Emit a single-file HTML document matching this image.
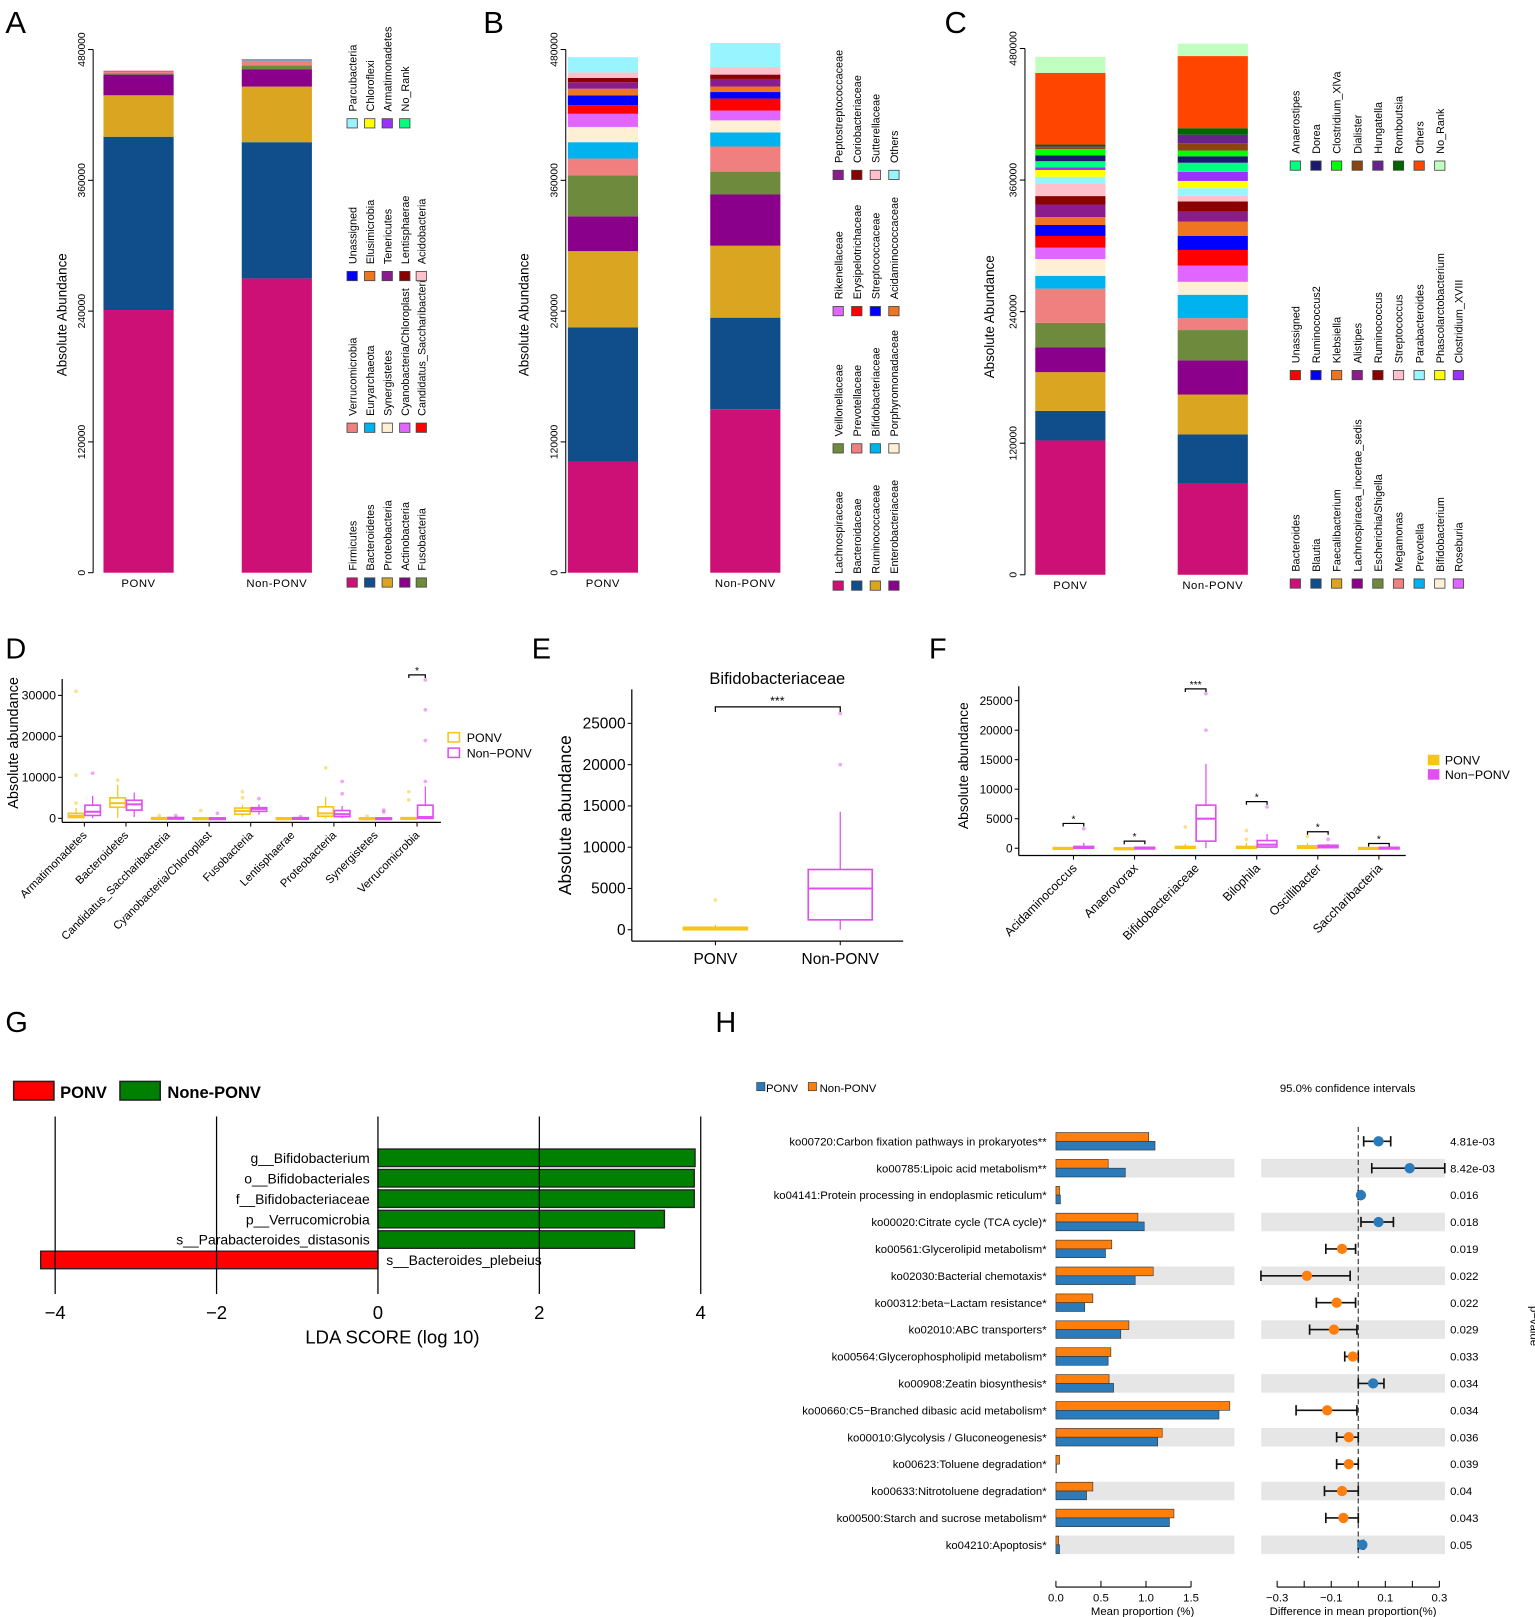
<!DOCTYPE html>
<html><head><meta charset="utf-8"><style>
html,body{margin:0;padding:0;background:#fff;}
svg{display:block;font-family:"Liberation Sans",Arial,sans-serif;}
</style></head><body>
<svg id="fig" xmlns="http://www.w3.org/2000/svg" width="1535" height="1617" viewBox="0 0 1487 1567"></svg>
<script>
// ===== Data: Panel A (cumulative tops, phylum) =====
const aGroups = ["PONV","Non-PONV"];
const aTaxa = ["Firmicutes","Bacteroidetes","Proteobacteria","Actinobacteria","Fusobacteria","Verrucomicrobia","Euryarchaeota","Synergistetes","Cyanobacteria/Chloroplast","Candidatus_Saccharibacteria","Unassigned","Elusimicrobia","Tenericutes","Lentisphaerae","Acidobacteria","Parcubacteria","Chloroflexi","Armatimonadetes","No_Rank"];
const aTopsPONV = [241000,400000,438000,457000,458000,459500,460000,460000,460000,460500,460500,460500,460500,460500,461000,461000,461000,461000,461000];
const aTopsNon = [270000,395000,446000,462000,465500,470000,470500,470500,470500,471000,471000,471000,471000,471000,471000,471000,471000,471000,471000];
const aTicks = [0,120000,240000,360000,480000];
// ===== Data: Panel B (family) =====
const bTaxa = ["Lachnospiraceae","Bacteroidaceae","Ruminococcaceae","Enterobacteriaceae","Veillonellaceae","Prevotellaceae","Bifidobacteriaceae","Porphyromonadaceae","Rikenellaceae","Erysipelotrichaceae","Streptococcaceae","Acidaminococcaceae","Peptostreptococcaceae","Coriobacteriaceae","Sutterellaceae","Others"];
const bTopsPONV = [102000,225000,295000,327000,364500,380000,395000,409000,421000,429000,438000,444000,450000,454000,459000,473000];
const bTopsNon = [150000,234000,300000,347000,368000,391000,404000,415000,424000,435000,441000,446000,453000,457000,464000,486000];
// ===== Data: Panel C (genus) =====
const cTaxa = ["Bacteroides","Blautia","Faecalibacterium","Lachnospiracea_incertae_sedis","Escherichia/Shigella","Megamonas","Prevotella","Bifidobacterium","Roseburia","Unassigned","Ruminococcus2","Klebsiella","Alistipes","Ruminococcus","Streptococcus","Parabacteroides","Phascolarctobacterium","Clostridium_XVIII","Anaerostipes","Dorea","Clostridium_XlVa","Dialister","Hungatella","Romboutsia","Others","No_Rank"];
const cTopsPONV = [122500,149500,184800,207300,229800,261000,272700,288000,298300,309000,319000,326300,337700,345400,356400,363000,369200,371700,377200,382400,388300,390000,390700,392400,457800,472400];
const cTopsNon = [83700,128000,164400,195500,223200,234000,255400,267200,282000,296200,309000,322200,331200,340500,345700,352600,359200,367500,375800,381700,386900,393500,401400,407300,473100,484500];
// ===== Data: Panel D =====
const dCats = ["Armatimonadetes","Bacteroidetes","Candidatus_Saccharibacteria","Cyanobacteria/Chloroplast","Fusobacteria","Lentisphaerae","Proteobacteria","Synergistetes","Verrucomicrobia"];
const dPq1 = [200,2700,0,0,1000,0,500,0,0];
const dPmed = [600,3700,50,0,1800,0,1200,0,0];
const dPq3 = [1200,5000,150,100,2500,100,2800,100,150];
const dPlo = [0,100,0,0,400,0,0,0,0];
const dPhi = [2500,8200,400,200,3200,200,5200,300,300];
const dPout = [[31000,10500,3700],[9300],[700],[1900],[5000,6500],[],[12300],[500],[4500,6500]];
const dNq1 = [700,2000,0,0,1700,0,400,0,0];
const dNmed = [1600,3400,50,0,2300,0,1000,0,300];
const dNq3 = [3200,4400,200,100,2600,150,1900,100,3200];
const dNlo = [0,300,0,0,900,0,0,0,0];
const dNhi = [5500,6300,500,300,3400,300,3000,300,7800];
const dNout = [[11000],[],[700],[1200],[4800],[400],[6000,9000],[1500,2000],[9000,19000,26500,33800]];
const dTicks = [0,10000,20000,30000];
// ===== Data: Panel E =====
const eCats = ["PONV","Non-PONV"];
const eQ1 = [0,1200], eMed = [150,5000], eQ3 = [300,7300], eLo = [0,0], eHi = [600,14300];
const eOut = [[3600],[20000,26200]];
const eTicks = [0,5000,10000,15000,20000,25000];
// ===== Data: Panel F =====
const fCats = ["Acidaminococcus","Anaerovorax","Bifidobacteriaceae","Bilophila","Oscillibacter","Saccharibacteria"];
const fPq1 = [0,0,0,0,0,0], fPmed = [0,0,100,50,100,0], fPq3 = [100,50,300,300,400,100], fPlo=[0,0,0,0,0,0], fPhi=[200,100,700,900,900,200];
const fPout = [[],[],[3600],[1500,3000],[2000],[]];
const fNq1 = [0,0,1200,200,100,0], fNmed = [100,50,5000,600,300,0], fNq3 = [300,150,7300,1300,500,150], fNlo=[0,0,0,0,0,0], fNhi=[900,300,14300,2400,700,300];
const fNout = [[3300],[],[20000,26200],[7000],[1500],[]];
const fSig = [4200,1200,27000,7900,2800,800];
const fStars = ["*","*","***","*","*","*"];
const fTicks = [0,5000,10000,15000,20000,25000];
// ===== Data: Panel G (LDA) =====
const gTaxa = ["g__Bifidobacterium","o__Bifidobacteriales","f__Bifidobacteriaceae","p__Verrucomicrobia","s__Parabacteroides_distasonis","s__Bacteroides_plebeius"];
const gScores = [3.93,3.92,3.92,3.55,3.18,-4.18];
const gTicks = [-4,-2,0,2,4];
// ===== Data: Panel H =====
const hPaths = ["ko00720:Carbon fixation pathways in prokaryotes**","ko00785:Lipoic acid metabolism**","ko04141:Protein processing in endoplasmic reticulum*","ko00020:Citrate cycle (TCA cycle)*","ko00561:Glycerolipid metabolism*","ko02030:Bacterial chemotaxis*","ko00312:beta\u2212Lactam resistance*","ko02010:ABC transporters*","ko00564:Glycerophospholipid metabolism*","ko00908:Zeatin biosynthesis*","ko00660:C5\u2212Branched dibasic acid metabolism*","ko00010:Glycolysis / Gluconeogenesis*","ko00623:Toluene degradation*","ko00633:Nitrotoluene degradation*","ko00500:Starch and sucrose metabolism*","ko04210:Apoptosis*"];
const hNon = [1.03,0.58,0.04,0.91,0.62,1.08,0.41,0.81,0.61,0.59,1.93,1.18,0.04,0.41,1.31,0.03];
const hPonv = [1.10,0.77,0.05,0.98,0.55,0.88,0.32,0.72,0.58,0.64,1.81,1.13,0.005,0.34,1.26,0.04];
const hDiff = [0.075,0.19,0.01,0.075,-0.06,-0.19,-0.08,-0.09,-0.02,0.055,-0.115,-0.035,-0.035,-0.06,-0.055,0.015];
const hLo = [0.02,0.05,0,0.01,-0.12,-0.36,-0.155,-0.18,-0.05,0,-0.23,-0.08,-0.08,-0.125,-0.12,0];
const hHi = [0.12,0.32,0.01,0.13,-0.01,-0.03,-0.01,-0.005,0,0.095,-0.005,0,0,0,0,0.02];
const hP = ["4.81e-03","8.42e-03","0.016","0.018","0.019","0.022","0.022","0.029","0.033","0.034","0.034","0.036","0.039","0.04","0.043","0.05"];
const hTicksL = [0,0.5,1.0,1.5];
const hTicksR = [-0.3,-0.2,-0.1,0,0.1,0.2,0.3];

const pal = ["#CD1076","#104E8B","#DAA520","#8B008B","#6E8B3D","#F08080","#00B2EE","#FFEFD5","#E066FF","#FF0000","#0000FF","#EE7621","#8B1C8B","#8B0000","#FFC0CB","#98F5FF","#FFFF00","#9B30FF","#00FF7F","#191970","#00FF00","#8B4513","#68228B","#006400","#FF4500","#C1FFC1"];
const aPal = pal.slice(0,18).concat(["#00FF7F"]);
const bPal = pal.slice(0,16);
const cPal = pal.slice(0,18).concat(["#00FF7F","#191970","#00FF00","#8B4513","#68228B","#006400","#FF4500","#C1FFC1"]);

const svg = document.getElementById('fig');
const NS = "http://www.w3.org/2000/svg";
function mk(tag, at, parent){const e=document.createElementNS(NS,tag);for(const k in at)e.setAttribute(k,at[k]);(parent||svg).appendChild(e);return e;}
function tx(str, at, parent){const e=mk('text',at,parent);e.textContent=str;return e;}

[["A",5],["B",468],["C",915]].forEach(p=>{const t=tx(p[0],{x:p[1],y:32,'font-size':30});

});
[["D",5,638],["E",515,638],["F",900,638],["G",5,1000],["H",693,1000]].forEach(p=>{const t=tx(p[0],{x:p[1],y:p[2],'font-size':28});

});

function stackPanel(key, axisX, y0, pxFull, bars, taxa, tops, colors, legCols, legGroups, titleX){
  const g=mk('g',{});
  
  
  const y=v=>y0 - v*pxFull/480000;
  const ax=mk('line',{x1:axisX,y1:y(0),x2:axisX,y2:y(480000),stroke:'#000','stroke-width':1},g);
  
  
  aTicks.forEach(v=>{
    const tk=mk('line',{x1:axisX-5,y1:y(v),x2:axisX,y2:y(v),stroke:'#000'},g);
    
    
    const tl=tx(String(v),{x:axisX-8,y:y(v),'font-size':10,'text-anchor':'middle',transform:`rotate(-90 ${axisX-8} ${y(v)})`},g);
    
    
  });
  const yt=tx('Absolute Abundance',{x:titleX,y:y0-250,'font-size':13,'text-anchor':'middle',transform:`rotate(-90 ${titleX} ${y0-250})`},g);
  
  
  bars.forEach((b,bi)=>{
    let prev=0;
    b.tops.forEach((t,i)=>{
      if(t>prev){
        const r=mk('rect',{x:b.x,y:y(t),width:68,height:y(prev)-y(t),fill:colors[i]},g);
        
        
      }
      prev=Math.max(prev,t);
    });
    const lb=tx(aGroups[bi],{x:b.x+34,y:y0+14,'font-size':11,'text-anchor':'middle','letter-spacing':'0.5'},g);
    
    
  });
  let idx=0;
  legGroups.forEach(gr=>{
    for(let c=0;c<gr.n;c++){
      const i=idx++;
      const x=legCols[c];
      const sq=mk('rect',{x:x-5,y:gr.y-5,width:10,height:9,fill:colors[i],stroke:'#444','stroke-width':0.8},g);
      
      
      const lt=tx(taxa[i],{x:x+4,y:gr.y-12,'font-size':10.5,transform:`rotate(-90 ${x+4} ${gr.y-12})`},g);
      
      
    }
  });
}
stackPanel('a',90,555,507,[{x:100,tops:aTopsPONV},{x:234,tops:aTopsNon}],aTaxa,aTopsPONV,aPal,[341,358,375,392,408],[{y:565,n:5},{y:415,n:5},{y:268,n:5},{y:120,n:4}],64);
stackPanel('b',548,555,507,[{x:550,tops:bTopsPONV},{x:688,tops:bTopsNon}],bTaxa,bTopsPONV,bPal,[812,830,848,866],[{y:568,n:4},{y:435,n:4},{y:302,n:4},{y:170,n:4}],512);
stackPanel('c',993,557,510,[{x:1003,tops:cTopsPONV},{x:1141,tops:cTopsNon}],cTaxa,cTopsPONV,cPal,[1255,1275,1295,1315,1335,1355,1375,1395,1413],[{y:566,n:9},{y:364,n:9},{y:161,n:8}],963);

function boxDraw(g,cx,w,q1,med,q3,lo,hi,outs,col,y){
  const wl=mk('line',{x1:cx,y1:y(lo),x2:cx,y2:y(hi),stroke:col,'stroke-width':1.2},g);
  
  
  const bx=mk('rect',{x:cx-w/2,y:y(q3),width:w,height:Math.max(1.5,y(q1)-y(q3)),fill:'#fff',stroke:col,'stroke-width':1.6},g);
  
  
  const md=mk('line',{x1:cx-w/2,y1:y(med),x2:cx+w/2,y2:y(med),stroke:col,'stroke-width':2},g);
  
  
  outs.forEach(o=>{const c=mk('circle',{cx:cx,cy:y(o),r:1.8,fill:col,opacity:0.5},g);
  
  });
}
const YEL='#F5C518', PINK='#E050F0';

(function(){
  const g=mk('g',{});
  
  
  const y=v=>793 - v*39.7/10000;
  const x=i=>81.5+i*40.3;
  const a1=mk('line',{x1:60,y1:658,x2:60,y2:797,stroke:'#000','stroke-width':1.2},g);
  
  
  const a2=mk('line',{x1:60,y1:797,x2:427,y2:797,stroke:'#000','stroke-width':1.2},g);
  
  
  dTicks.forEach(v=>{
    const t=mk('line',{x1:56,y1:y(v),x2:60,y2:y(v),stroke:'#000'},g);
    
    
    const l=tx(String(v),{x:54,y:y(v)+4,'font-size':12,'text-anchor':'end'},g);
    
    
  });
  const yt=tx('Absolute abundance',{x:17,y:720,'font-size':14,'text-anchor':'middle',transform:'rotate(-90 17 720)'},g);
  
  
  dCats.forEach((c,i)=>{
    boxDraw(g,x(i)-8,15,dPq1[i],dPmed[i],dPq3[i],dPlo[i],dPhi[i],dPout[i],YEL,y);
    boxDraw(g,x(i)+8,15,dNq1[i],dNmed[i],dNq3[i],dNlo[i],dNhi[i],dNout[i],PINK,y);
    const t=mk('line',{x1:x(i),y1:797,x2:x(i),y2:801,stroke:'#000'},g);
    
    
    const l=tx(c,{x:x(i)+3,y:810,'font-size':11,'text-anchor':'end',transform:`rotate(-45 ${x(i)+3} 810)`},g);
    
    
  });
  const i=8, yb=y(35000);
  const br=mk('path',{d:`M${x(i)-8} ${yb+3}V${yb}H${x(i)+8}V${yb+3}`,fill:'none',stroke:'#000','stroke-width':1.2},g);
  
  
  const st=tx('*',{x:x(i),y:yb-1,'font-size':10,'text-anchor':'middle'},g);
  
  
  [['PONV',YEL,716],['Non\u2212PONV',PINK,731]].forEach(L=>{
    const s=mk('rect',{x:434,y:L[2]-6,width:11,height:9,fill:'#fff',stroke:L[1],'stroke-width':1.5},g);
    
    
    const lt=tx(L[0],{x:452,y:L[2]+3,'font-size':12},g);
    
    
  });
})();

(function(){
  const g=mk('g',{});
  
  
  const y=v=>901 - v*0.008;
  const xs=[693,814];
  const a1=mk('line',{x1:612,y1:668,x2:612,y2:912,stroke:'#000','stroke-width':1.2},g);
  
  
  const a2=mk('line',{x1:612,y1:912,x2:875,y2:912,stroke:'#000','stroke-width':1.2},g);
  
  
  eTicks.forEach(v=>{
    const t=mk('line',{x1:608,y1:y(v),x2:612,y2:y(v),stroke:'#000'},g);
    
    
    const l=tx(String(v),{x:606,y:y(v)+5,'font-size':15,'text-anchor':'end'},g);
    
    
  });
  const yt=tx('Absolute abundance',{x:553,y:790,'font-size':17,'text-anchor':'middle',transform:'rotate(-90 553 790)'},g);
  
  
  const ti=tx('Bifidobacteriaceae',{x:753,y:663,'font-size':16,'text-anchor':'middle'},g);
  
  
  eCats.forEach((c,i)=>{
    boxDraw(g,xs[i],62,eQ1[i],eMed[i],eQ3[i],eLo[i],eHi[i],eOut[i],i?PINK:YEL,y);
    const t=mk('line',{x1:xs[i],y1:912,x2:xs[i],y2:916,stroke:'#000'},g);
    
    
    const l=tx(c,{x:xs[i],y:934,'font-size':15,'text-anchor':'middle'},g);
    
    
  });
  const yb=y(27000);
  const br=mk('path',{d:`M${xs[0]} ${yb+5}V${yb}H${xs[1]}V${yb+5}`,fill:'none',stroke:'#000','stroke-width':1.2},g);
  
  
  const st=tx('***',{x:753,y:yb-2,'font-size':12,'text-anchor':'middle'},g);
  
  
})();

(function(){
  const g=mk('g',{});
  
  
  const y=v=>822 - v*0.00572;
  const x=i=>1040+i*59.2;
  const a1=mk('line',{x1:987,y1:665,x2:987,y2:829,stroke:'#000','stroke-width':1.2},g);
  
  
  const a2=mk('line',{x1:987,y1:829,x2:1362,y2:829,stroke:'#000','stroke-width':1.2},g);
  
  
  fTicks.forEach(v=>{
    const t=mk('line',{x1:983,y1:y(v),x2:987,y2:y(v),stroke:'#000'},g);
    
    
    const l=tx(String(v),{x:981,y:y(v)+4,'font-size':11.5,'text-anchor':'end'},g);
    
    
  });
  const yt=tx('Absolute abundance',{x:938,y:742,'font-size':13.5,'text-anchor':'middle',transform:'rotate(-90 938 742)'},g);
  
  
  fCats.forEach((c,i)=>{
    boxDraw(g,x(i)-10,19,fPq1[i],fPmed[i],fPq3[i],fPlo[i],fPhi[i],fPout[i],YEL,y);
    boxDraw(g,x(i)+10,19,fNq1[i],fNmed[i],fNq3[i],fNlo[i],fNhi[i],fNout[i],PINK,y);
    const t=mk('line',{x1:x(i),y1:829,x2:x(i),y2:833,stroke:'#000'},g);
    
    
    const l=tx(c,{x:x(i)+4,y:842,'font-size':12,'text-anchor':'end',transform:`rotate(-45 ${x(i)+4} 842)`},g);
    
    
    const yb=y(fSig[i]);
    const br=mk('path',{d:`M${x(i)-10} ${yb+3}V${yb}H${x(i)+10}V${yb+3}`,fill:'none',stroke:'#000','stroke-width':1.2},g);
    
    
    const st=tx(fStars[i],{x:x(i),y:yb-1,'font-size':10,'text-anchor':'middle'},g);
    
    
  });
  [['PONV',YEL,738],['Non\u2212PONV',PINK,752]].forEach(L=>{
    const s=mk('rect',{x:1384,y:L[2]-6,width:10,height:9,fill:L[1],stroke:L[1],'stroke-width':1.2},g);
    
    
    const lt=tx(L[0],{x:1400,y:L[2]+3,'font-size':12},g);
    
    
  });
})();

(function(){
  const g=mk('g',{});
  
  
  const x=v=>366 + v*78.2;
  const rowY=i=>1122 + i*19.8;
  [['PONV','#FF0000',13,58],['None-PONV','#008000',116,162]].forEach(L=>{
    const s=mk('rect',{x:L[2],y:1048,width:39,height:18,fill:L[1],stroke:'#222','stroke-width':1.5},g);
    
    
    const lt=tx(L[0],{x:L[3],y:1064,'font-size':16,'font-weight':'bold'},g);
    
    
  });
  gScores.forEach((s,i)=>{
    const x0=Math.min(x(0),x(s)), w=Math.abs(x(s)-x(0));
    const r=mk('rect',{x:x0,y:rowY(i)-8.5,width:w,height:17,fill:s<0?'#FF0000':'#008000',stroke:'#222','stroke-width':1.3},g);
    
    
  });
  gTicks.forEach(v=>{
    const l=mk('line',{x1:x(v),y1:1082,x2:x(v),y2:1254,stroke:'#000','stroke-width':1.2},g);
    
    
    const t=tx((v<0?'\u2212':'')+Math.abs(v),{x:x(v),y:1278,'font-size':18,'text-anchor':'middle'},g);
    
    
  });
  gScores.forEach((s,i)=>{
    const t=tx(gTaxa[i],s<0?{x:x(0)+8,y:rowY(i)+5,'font-size':13.5}:{x:x(0)-8,y:rowY(i)+5,'font-size':13.5,'text-anchor':'end'},g);
    
    
  });
  const xt=tx('LDA SCORE (log 10)',{x:380,y:1302,'font-size':18,'text-anchor':'middle'},g);
  
  
})();

(function(){
  const g=mk('g',{});
  
  
  const BL='#2B7BBA', OR='#FF7F0E';
  const xl=v=>1023 + v*87.3;
  const xr=v=>1316 + v*262;
  const rowY=i=>1106 + i*26.07;
  [['PONV',BL,733,742],['Non-PONV',OR,783,794]].forEach(L=>{
    const s=mk('rect',{x:L[2],y:1049,width:8,height:8,fill:L[1],stroke:'#333','stroke-width':0.6},g);
    
    
    const lt=tx(L[0],{x:L[3],y:1058,'font-size':11},g);
    
    
  });
  const ci=tx('95.0% confidence intervals',{x:1240,y:1058,'font-size':11},g);
  
  
  hPaths.forEach((p,i)=>{
    const yc=rowY(i);
    if(i%2===1){
      const b1=mk('rect',{x:1023,y:yc-9,width:173,height:18,fill:'#E6E6E6'},g);
      
      
      const b2=mk('rect',{x:1222,y:yc-9,width:178,height:18,fill:'#E6E6E6'},g);
      
      
    }
    const ro=mk('rect',{x:1023,y:yc-8.5,width:Math.max(0.5,xl(hNon[i])-1023),height:8.5,fill:OR,stroke:'#333','stroke-width':0.6},g);
    
    
    const rb=mk('rect',{x:1023,y:yc,width:Math.max(0.5,xl(hPonv[i])-1023),height:8.5,fill:BL,stroke:'#333','stroke-width':0.6},g);
    
    
    const lb=tx(p,{x:1014,y:yc+4,'font-size':11,'text-anchor':'end'},g);
    
    
    const pv=tx(hP[i],{x:1405,y:yc+4,'font-size':11},g);
    
    
  });
  const dl=mk('line',{x1:xr(0),y1:1092,x2:xr(0),y2:1510,stroke:'#444','stroke-width':1.2,'stroke-dasharray':'5,3'},g);
  
  
  hPaths.forEach((p,i)=>{
    const yc=rowY(i);
    const e=mk('path',{d:`M${xr(hLo[i])} ${yc-5}V${yc+5}M${xr(hLo[i])} ${yc}H${xr(hHi[i])}M${xr(hHi[i])} ${yc-5}V${yc+5}`,stroke:'#111','stroke-width':1.6,fill:'none'},g);
    
    
    const c=mk('circle',{cx:xr(hDiff[i]),cy:yc,r:5,fill:hDiff[i]>0?BL:OR},g);
    
    
  });
  const la=mk('line',{x1:1023,y1:1538,x2:1154,y2:1538,stroke:'#000'},g);
  
  
  hTicksL.forEach(v=>{
    const t=mk('line',{x1:xl(v),y1:1532,x2:xl(v),y2:1538,stroke:'#000'},g);
    
    
    const l=tx(v.toFixed(1),{x:xl(v),y:1552,'font-size':11,'text-anchor':'middle'},g);
    
    
  });
  const ra=mk('line',{x1:xr(-0.3),y1:1538,x2:xr(0.3),y2:1538,stroke:'#000'},g);
  
  
  hTicksR.forEach((v,k)=>{
    const t=mk('line',{x1:xr(v),y1:1532,x2:xr(v),y2:1538,stroke:'#000'},g);
    
    
    if(k%2===0){
      const l=tx((v<0?'\u2212':'')+Math.abs(v).toFixed(1),{x:xr(v),y:1552,'font-size':11,'text-anchor':'middle'},g);
      
      
    }
  });
  const t1=tx('Mean proportion (%)',{x:1107,y:1565,'font-size':11,'text-anchor':'middle'},g);
  
  
  const t2=tx('Difference in mean proportion(%)',{x:1311,y:1565,'font-size':11,'text-anchor':'middle'},g);
  
  
  const pt=tx('p\u2212value',{x:1483,y:1285,'font-size':11,'text-anchor':'middle',transform:'rotate(90 1483 1285)'},g);
  
  
})();
</script>
</body></html>
